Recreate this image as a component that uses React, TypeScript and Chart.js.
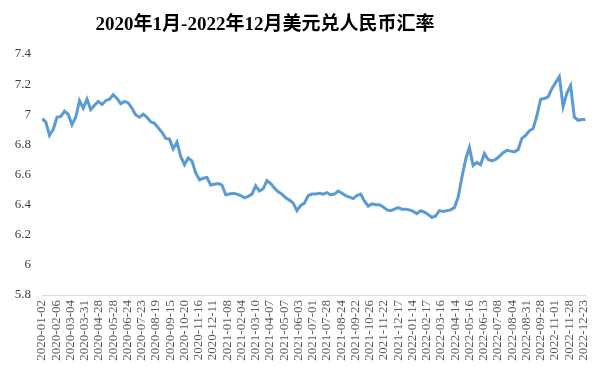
import React, { useEffect, useRef } from "react";
import { Chart, registerables } from "chart.js";

Chart.register(...registerables);

const TITLE = "2020年1月-2022年12月美元兑人民币汇率";

// date labels shown on the category axis (every 19 trading days)
const tickLabels = [
  "2020-01-02", "2020-02-06", "2020-03-04", "2020-03-31", "2020-04-28", "2020-05-28",
  "2020-06-24", "2020-07-23", "2020-08-19", "2020-09-15", "2020-10-20", "2020-11-16",
  "2020-12-11", "2021-01-08", "2021-02-04", "2021-03-10", "2021-04-07", "2021-05-07",
  "2021-06-03", "2021-07-01", "2021-07-28", "2021-08-24", "2021-09-22", "2021-10-26",
  "2021-11-22", "2021-12-17", "2022-01-14", "2022-02-17", "2022-03-16", "2022-04-14",
  "2022-05-16", "2022-06-13", "2022-07-08", "2022-08-04", "2022-08-31", "2022-09-28",
  "2022-11-01", "2022-11-28", "2022-12-23",
];
const LABEL_EVERY = 19; // trading days between labels
const SAMPLE_EVERY = 5; // trading days between readings below

// USD/CNY readings, one every 5 trading days from 2020-01-02
const rates = [
  6.97, 6.95, 6.86, 6.90, 6.98, 6.985, 7.02, 7.00, 6.93, 6.98,
  7.09, 7.04, 7.10, 7.03, 7.06, 7.085, 7.065, 7.09, 7.10, 7.13,
  7.105, 7.07, 7.085, 7.075, 7.04, 6.995, 6.98, 7.00, 6.98, 6.95,
  6.94, 6.91, 6.88, 6.84, 6.835, 6.77, 6.815, 6.72, 6.665, 6.71,
  6.69, 6.61, 6.565, 6.575, 6.58, 6.53, 6.535, 6.54, 6.53, 6.465,
  6.47, 6.475, 6.47, 6.46, 6.445, 6.455, 6.47, 6.525, 6.49, 6.505,
  6.56, 6.54, 6.51, 6.485, 6.47, 6.445, 6.43, 6.41, 6.36, 6.395,
  6.41, 6.46, 6.47, 6.47, 6.475, 6.47, 6.48, 6.465, 6.47, 6.49,
  6.475, 6.46, 6.45, 6.44, 6.46, 6.47, 6.425, 6.39, 6.405, 6.40,
  6.40, 6.385, 6.365, 6.36, 6.37, 6.38, 6.37, 6.37, 6.365, 6.355,
  6.34, 6.36, 6.35, 6.335, 6.315, 6.325, 6.36, 6.355, 6.36, 6.365,
  6.38, 6.45, 6.58, 6.70, 6.78, 6.66, 6.68, 6.665, 6.74, 6.70,
  6.69, 6.70, 6.72, 6.745, 6.76, 6.755, 6.75, 6.765, 6.84, 6.86,
  6.89, 6.905, 6.99, 7.10, 7.105, 7.115, 7.17, 7.21, 7.25, 7.05,
  7.14, 7.19, 6.98, 6.96, 6.965, 6.965,
];

const yTicks = [5.8, 6, 6.2, 6.4, 6.6, 6.8, 7, 7.2, 7.4];

export default function App() {
  const ref = useRef<HTMLCanvasElement | null>(null);

  useEffect(() => {
    document.body.style.margin = "0";
    const canvas = ref.current;
    if (!canvas) return;

    const titlePlugin = {
      id: "customTitle",
      afterDraw(chart: any) {
        const ctx = chart.ctx;
        ctx.save();
        ctx.font = 'bold 19px "Liberation Serif", "Noto Sans CJK SC", serif';
        ctx.fillStyle = "#000000";
        ctx.textAlign = "center";
        ctx.textBaseline = "middle";
        ctx.fillText(TITLE, 265, 25);
        ctx.restore();
      },
    };

    const data = rates.map((v, i) => ({ x: i * SAMPLE_EVERY, y: v }));
    const lastIdx = (rates.length - 1) * SAMPLE_EVERY;

    const chart = new Chart(canvas, {
      type: "line",
      data: {
        datasets: [
          {
            data,
            borderColor: "#5B9BD5",
            borderWidth: 3,
            pointRadius: 0,
            tension: 0,
            fill: false,
          },
        ],
      },
      options: {
        animation: false,
        responsive: false,
        layout: { padding: { top: 54, right: 10, left: 0, bottom: 0 } },
        plugins: { legend: { display: false }, tooltip: { enabled: false }, title: { display: false } },
        scales: {
          x: {
            type: "linear",
            min: 0,
            max: lastIdx,
            afterFit: (s: any) => {
              s.height = 74;
            },
            afterBuildTicks: (axis: any) => {
              axis.ticks = tickLabels.map((_, i) => ({ value: i * LABEL_EVERY }));
            },
            grid: { display: false, drawTicks: false },
            border: { display: true, color: "#d9d9d9", width: 1 },
            ticks: {
              autoSkip: false,
              maxRotation: 90,
              minRotation: 90,
              padding: 5,
              color: "#595959",
              font: { family: '"Liberation Serif", serif', size: 13 },
              callback: (v: any) => tickLabels[Math.round(Number(v) / LABEL_EVERY)] ?? "",
            },
          },
          y: {
            type: "linear",
            min: 5.8,
            max: 7.4,
            afterFit: (s: any) => {
              s.width = 42;
            },
            afterBuildTicks: (axis: any) => {
              axis.ticks = yTicks.map((v) => ({ value: v }));
            },
            grid: { display: false, drawTicks: false },
            border: { display: false },
            ticks: {
              padding: 11,
              color: "#404040",
              font: { family: '"Liberation Serif", serif', size: 13 },
              callback: (v: any) => String(Math.round(Number(v) * 10) / 10),
            },
          },
        },
      },
      plugins: [titlePlugin],
    });

    return () => chart.destroy();
  }, []);

  return (
    <div style={{ width: 604, height: 369 }}>
      <canvas ref={ref} width={604} height={369} />
    </div>
  );
}
